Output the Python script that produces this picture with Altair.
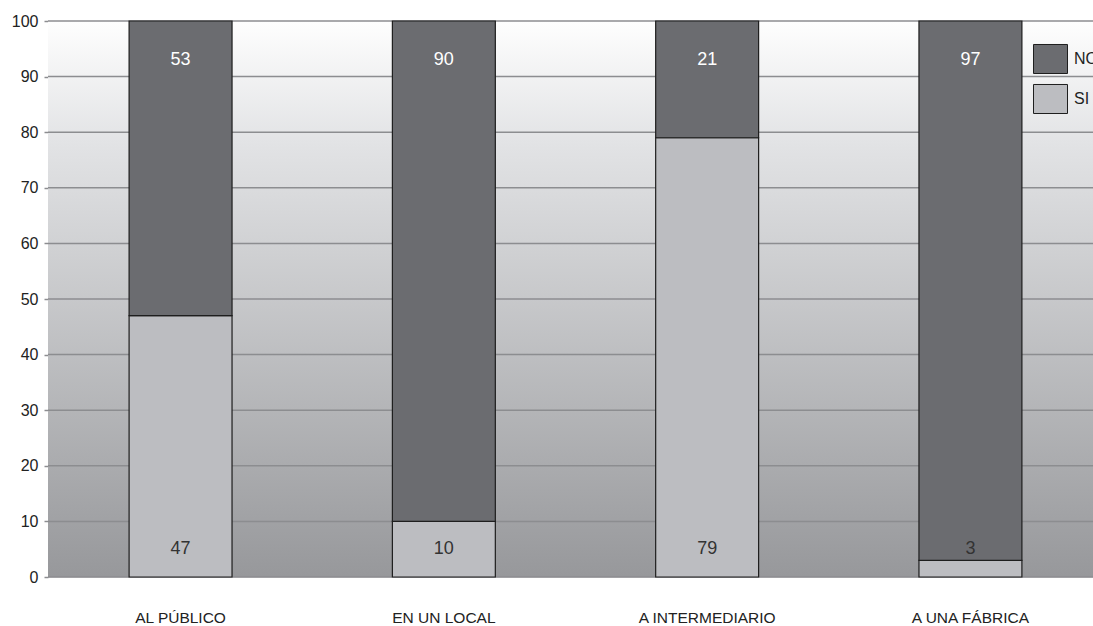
import altair as alt
import pandas as pd

# Values per sales channel (percent answering SI / NO)
destinos = ["AL PÚBLICO", "EN UN LOCAL", "A INTERMEDIARIO", "A UNA FÁBRICA"]
si_vals = [47, 10, 79, 3]
no_vals = [53, 90, 21, 97]
respuestas = ["NO", "SI"]
y_ticks = [0, 10, 20, 30, 40, 50, 60, 70, 80, 90, 100]

rows = []
for d, s, n in zip(destinos, si_vals, no_vals):
    rows.append({"destino": d, "respuesta": "SI", "valor": s, "orden": 0})
    rows.append({"destino": d, "respuesta": "NO", "valor": n, "orden": 1})
df = pd.DataFrame(rows)
grid_df = pd.DataFrame({"t": y_ticks})
bg_df = pd.DataFrame({"k": [0]})

W, H = 1045, 556
FONT = "Liberation Sans"

x_enc = alt.X(
    "destino:N",
    sort=destinos,
    title=None,
    scale=alt.Scale(range=[0, 1055], paddingInner=0.609, paddingOuter=0.308),
    axis=alt.Axis(domain=False, ticks=False, labelPadding=33, labelFontSize=15.5,
                  labelColor="#222222", labelAngle=0, labelFont=FONT),
)
y_scale = alt.Scale(domain=[0, 100], nice=False, zero=True)

# Shaded plot background, light at the top fading to grey
background = alt.Chart(bg_df).mark_rect(
    color=alt.LinearGradient(
        gradient="linear",
        stops=[alt.GradientStop(color="#fefefe", offset=0),
               alt.GradientStop(color="#e2e3e5", offset=0.22),
               alt.GradientStop(color="#97989b", offset=1)],
        x1=0, x2=0, y1=0, y2=1,
    )
).encode(x=alt.value(0), x2=alt.value(W), y=alt.value(0), y2=alt.value(H))

grid = alt.Chart(grid_df).mark_rule(color="#8c8d90", strokeWidth=1.5).encode(
    y=alt.Y("t:Q", scale=y_scale,
            axis=alt.Axis(values=y_ticks, grid=False, domain=False, tickSize=4,
                          tickColor="#8c8d90", tickWidth=1.5, labelPadding=6,
                          labelFontSize=16, labelColor="#222222", labelFont=FONT),
            title=None)
)

bars = alt.Chart(df).mark_bar(stroke="#1e1e1e", strokeWidth=1.2).encode(
    x=x_enc,
    y=alt.Y("valor:Q", stack="zero", scale=y_scale, title=None),
    color=alt.Color(
        "respuesta:N",
        scale=alt.Scale(domain=respuestas, range=["#6b6c70", "#bcbdc1"]),
        legend=alt.Legend(
            title=None, orient="none", legendX=985, legendY=20.5, padding=0,
            symbolType="M-1,-0.853H1V0.853H-1Z", symbolSize=1156,
            symbolStrokeColor="#1e1e1e", symbolStrokeWidth=1, symbolOpacity=1,
            rowPadding=5, labelOffset=6, labelFontSize=16, labelColor="#222222",
            labelFont=FONT,
        ),
    ),
    order=alt.Order("orden:Q", sort="ascending"),
)

labels = alt.Chart(df).transform_calculate(
    pos="datum.respuesta == 'NO' ? 93 : 5",
    tono="datum.respuesta == 'NO' ? '#ffffff' : '#333333'",
).mark_text(fontSize=18, font=FONT, baseline="middle").encode(
    x=x_enc,
    y=alt.Y("pos:Q", scale=y_scale, title=None),
    text=alt.Text("valor:Q"),
    color=alt.Color("tono:N", scale=None, legend=None),
)

chart = alt.layer(background, grid, bars, labels).properties(
    width=W, height=H,
    autosize=alt.AutoSizeParams(type="none"),
    padding={"left": 48, "top": 21, "right": 0, "bottom": 49},
).configure_view(stroke=None).configure(font=FONT, background="#ffffff")

chart.save("out.html", embed_options={"renderer": "svg", "actions": False})
